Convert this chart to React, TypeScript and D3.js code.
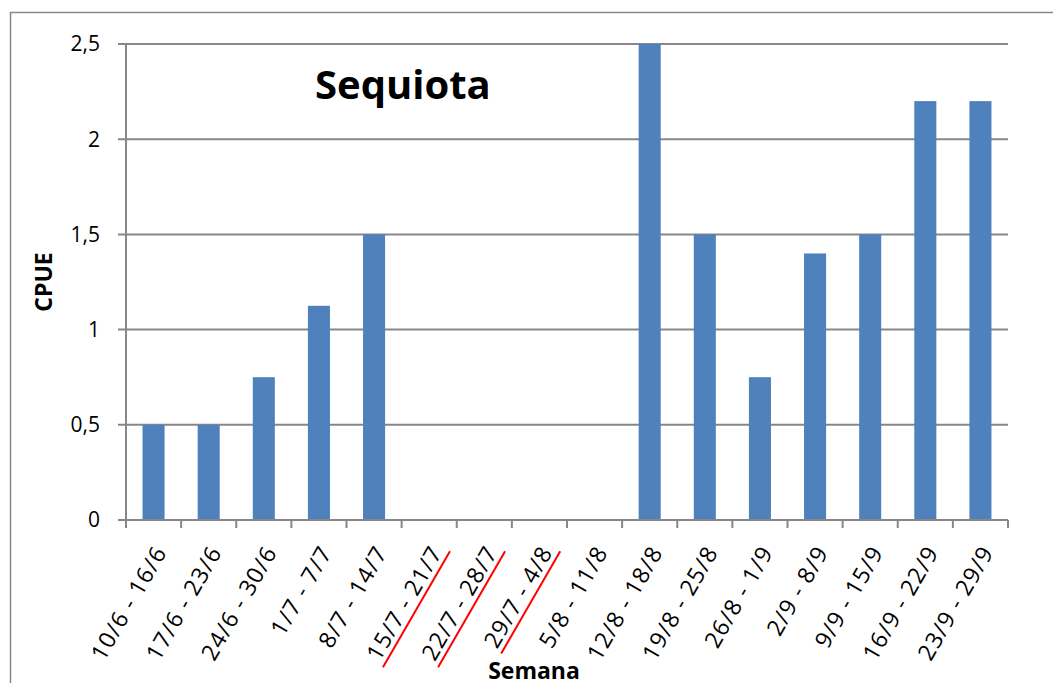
import React from "react";
import * as d3 from "d3";

// Weekly sampling periods and catch per unit effort
const categories = [
  "10/6 - 16/6", "17/6 - 23/6", "24/6 - 30/6", "1/7 - 7/7", "8/7 - 14/7",
  "15/7 - 21/7", "22/7 - 28/7", "29/7 - 4/8", "5/8 - 11/8", "12/8 - 18/8",
  "19/8 - 25/8", "26/8 - 1/9", "2/9 - 8/9", "9/9 - 15/9", "16/9 - 22/9", "23/9 - 29/9",
];
const cpue = [0.5, 0.5, 0.75, 1.125, 1.5, 0, 0, 0, 0, 2.5, 1.5, 0.75, 1.4, 1.5, 2.2, 2.2];
const yTicks = [0, 0.5, 1, 1.5, 2, 2.5];
const yTickLabels = ["0", "0,5", "1", "1,5", "2", "2,5"];
// Weeks without sampling, crossed out under the axis
const struckWeeks = ["15/7 - 21/7", "22/7 - 28/7", "29/7 - 4/8"];

const W = 1053;
const H = 683;
const M = { left: 126, right: 1008, top: 44, bottom: 520 };
const FONT = "'Open Sans', 'Noto Sans', sans-serif";
const GRID = "#878787";
const BAR = "#4f81bd";
const STRIKE_LEN = [134, 134, 118];
const LABEL_ANGLE = -60;

export default function App() {
  const x = d3
    .scaleBand<string>()
    .domain(categories)
    .range([M.left, M.right])
    .paddingInner(0.6)
    .paddingOuter(0.3);
  const y = d3.scaleLinear().domain([0, 2.5]).range([M.bottom, M.top]);
  const step = x.step();
  const center = (c: string) => (x(c) ?? 0) + x.bandwidth() / 2;

  return (
    <svg
      width={W}
      height={H}
      style={{ position: "absolute", left: 0, top: 0, display: "block", background: "#fff" }}
      fontFamily={FONT}
    >
      <rect x={10.5} y={12.5} width={W + 20} height={H + 20} fill="#fff" stroke={GRID} strokeWidth={1.5} />

      {/* horizontal gridlines and y ticks */}
      {yTicks.map((t, i) => (
        <g key={t}>
          <line x1={M.left - 8} x2={M.right} y1={y(t)} y2={y(t)} stroke={GRID} strokeWidth={2} />
          <text x={100} y={y(t)} dy="0.35em" textAnchor="end" fontSize={21} fill="#000">
            {yTickLabels[i]}
          </text>
        </g>
      ))}

      {/* bars */}
      {categories.map((c, i) =>
        cpue[i] > 0 ? (
          <rect
            key={c}
            x={x(c)}
            y={y(cpue[i])}
            width={x.bandwidth()}
            height={y(0) - y(cpue[i])}
            fill={BAR}
          />
        ) : null
      )}

      {/* axes */}
      <line x1={M.left} x2={M.left} y1={M.top} y2={M.bottom} stroke={GRID} strokeWidth={2} />
      <line x1={M.left} x2={M.right} y1={M.bottom} y2={M.bottom} stroke={GRID} strokeWidth={2} />
      {d3.range(categories.length + 1).map((i) => (
        <line
          key={i}
          x1={M.left + i * step}
          x2={M.left + i * step}
          y1={M.bottom}
          y2={M.bottom + 8}
          stroke={GRID}
          strokeWidth={2}
        />
      ))}

      {/* rotated category labels */}
      {categories.map((c) => {
        const k = struckWeeks.indexOf(c);
        return (
          <g key={c} transform={`translate(${center(c) + 14},${552}) rotate(${LABEL_ANGLE})`}>
            <text textAnchor="end" fontSize={23} letterSpacing={1.1} fill="#000">
              {c}
            </text>
            {k >= 0 && (
              <line x1={4} x2={4 - STRIKE_LEN[k]} y1={5.5} y2={5.5} stroke="#ff0000" strokeWidth={2} />
            )}
          </g>
        );
      })}

      {/* titles */}
      <text x={315} y={99} fontSize={40} fontWeight="bold" fill="#000">
        Sequiota
      </text>
      <text x={534} y={679} textAnchor="middle" fontSize={23} fontWeight="bold" fill="#000">
        Semana
      </text>
      <text
        transform={`translate(52,${(M.top + M.bottom) / 2}) rotate(-90)`}
        textAnchor="middle"
        fontSize={23}
        fontWeight="bold"
        fill="#000"
      >
        CPUE
      </text>
    </svg>
  );
}
